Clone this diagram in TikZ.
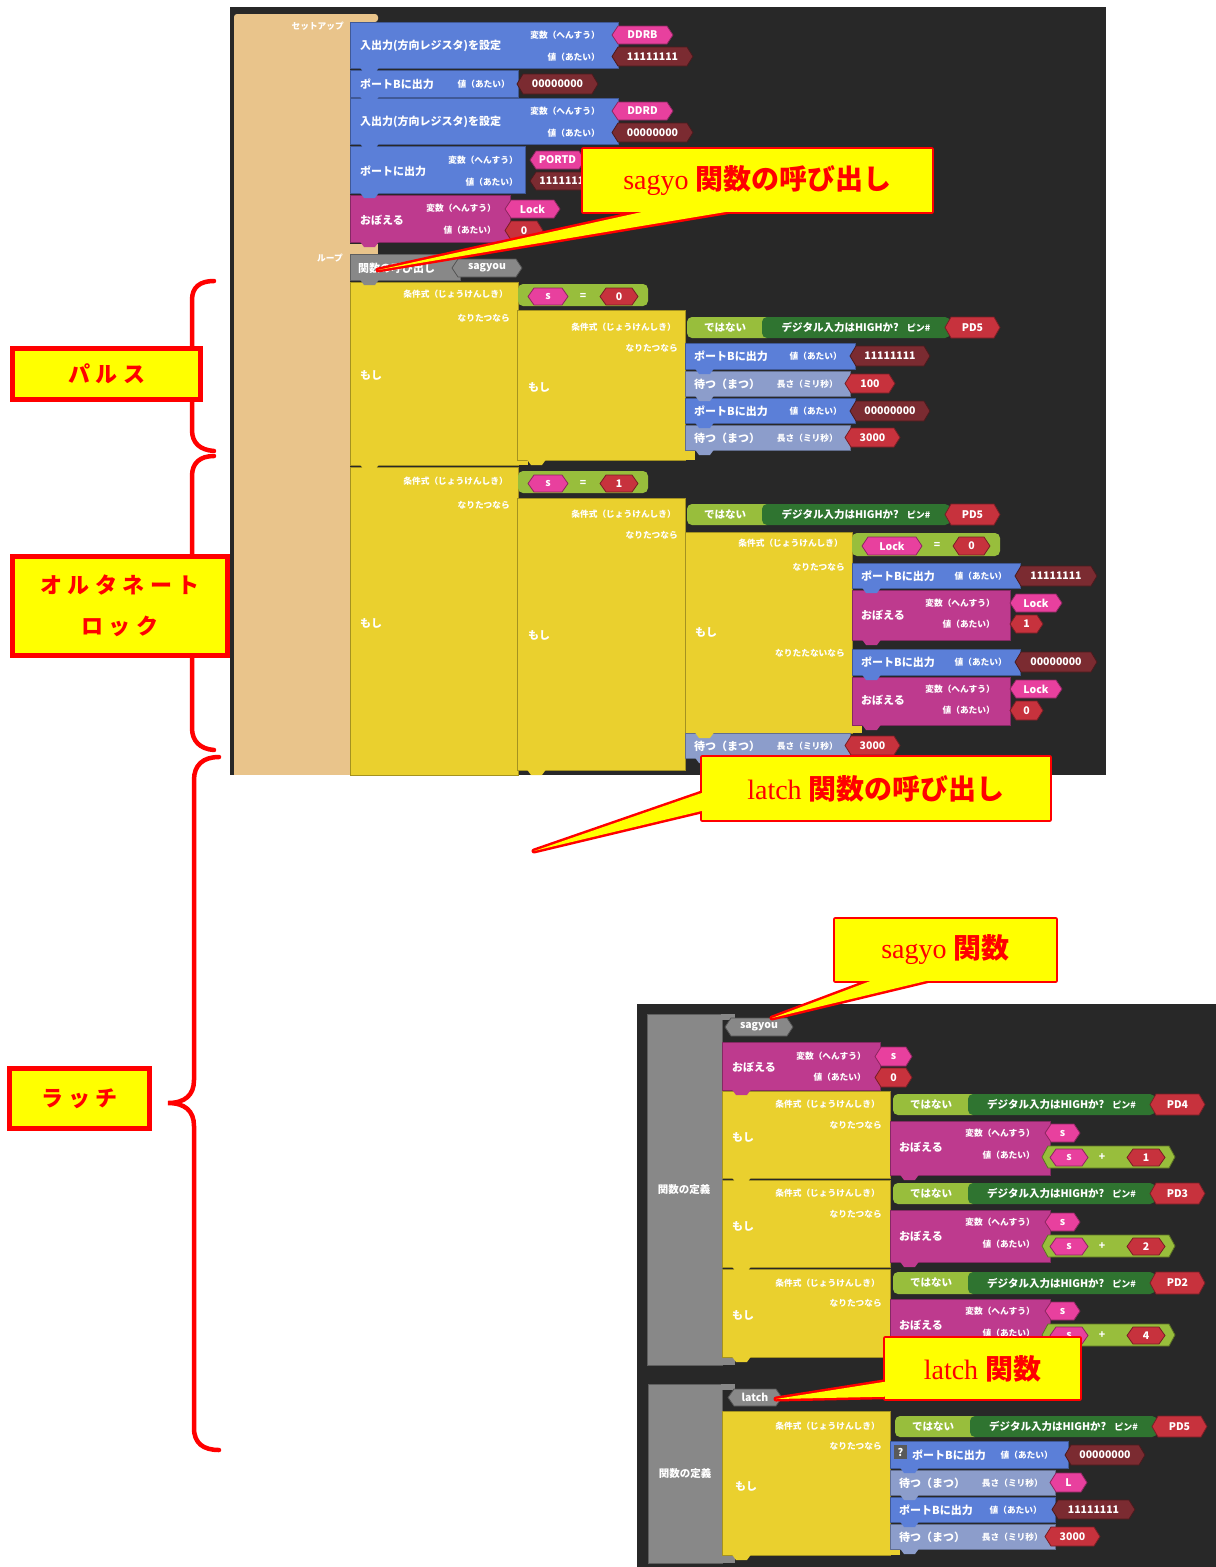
\documentclass[tikz,border=0pt]{standalone}
\usepackage{fontspec}
\setmainfont{Liberation Serif}
\newfontfamily\jp{Noto Sans CJK JP}
\newfontfamily\jpsp{Noto Sans CJK JP}[LetterSpace=25]
\usetikzlibrary{calc}
\definecolor{bg}{HTML}{282828}
\definecolor{ctan}{HTML}{E9C48B}
\definecolor{cblue}{HTML}{5B7FD8}
\definecolor{cwait}{HTML}{8C9DCB}
\definecolor{cmag}{HTML}{BE3A8E}
\definecolor{cyel}{HTML}{EAD02E}
\definecolor{clime}{HTML}{98BE3C}
\definecolor{cgrn}{HTML}{2F7430}
\definecolor{cpink}{HTML}{E8409E}
\definecolor{cred}{HTML}{C7323D}
\definecolor{cmar}{HTML}{7B2B31}
\definecolor{cgray}{HTML}{888888}
\definecolor{callred}{HTML}{FF0000}
\definecolor{cally}{HTML}{FFFF00}
\newcounter{nn}
\newcommand\T[4]{\stepcounter{nn}\node[#1] (n\arabic{nn}) at (#2,#3) {#4};}
\newcommand\B[5]{\filldraw[fill=#5, draw=#5!70!black, line width=0.8] (#1,#2) rectangle (#3,#4);}
\newcommand\tabs{}
\newcommand\tabfill[3]{\pgfmathsetmacro\ta{#1+10}\pgfmathsetmacro\tb{#1+14}\pgfmathsetmacro\tc{#1+25}\pgfmathsetmacro\td{#1+29}\pgfmathsetmacro\te{#2+5}\pgfmathsetmacro\tf{#2-0.5}%
 \fill[#3] (\ta,\tf) -- (\tb,\te) -- (\tc,\te) -- (\td,\tf) -- cycle;}
\newcommand\BS[5]{\B{#1}{#2}{#3}{#4}{#5}\xdef\tabs{\unexpanded\expandafter{\tabs}\noexpand\tabfill{#1}{#4}{#5}}}
\newcommand\V[6]{%
 \pgfmathsetmacro\vym{(#2+#4)/2}\pgfmathsetmacro\vxm{(#1+#3)/2}%
 \pgfmathsetmacro\vxa{#1+6}\pgfmathsetmacro\vxb{#3-6}%
 \filldraw[fill=#5, draw=#5!60!black, line width=0.8] (#1,\vym) -- (\vxa,#2) -- (\vxb,#2) -- (#3,\vym) -- (\vxb,#4) -- (\vxa,#4) -- cycle;
 \T{vtx}{\vxm}{\vym}{#6}}
% not + digital input + pin : x1 y1 y2 xgreenend pin
\newcommand\NP[5]{%
 \pgfmathsetmacro\pxa{#1+75}\pgfmathsetmacro\pxb{#1+85}%
 \pgfmathsetmacro\ppa{#4-5}\pgfmathsetmacro\ppb{#4+50}%
 \pgfmathsetmacro\pym{(#2+#3)/2}\pgfmathsetmacro\pxn{#1+38}\pgfmathsetmacro\pxg{(#1+75+#4)/2}%
 \fill[clime, rounded corners=5] (#1,#2) rectangle (\pxb,#3);
 \fill[cgrn, rounded corners=5] (\pxa,#2) rectangle (#4,#3);
 \V{\ppa}{#2}{\ppb}{#3}{cred}{#5}
 \T{ctr}{\pxn}{\pym}{ではない}
 \T{ctr}{\pxg}{\pym}{デジタル入力はHIGHか?\hspace{8pt}{\fontsize{9}{10}\selectfont ピン\#}}}
\tikzset{
 lab/.style={text=white, font=\jp\bfseries\fontsize{11}{12}\selectfont, inner sep=0, anchor=west},
 sml/.style={text=white, font=\jp\bfseries\fontsize{8.7}{10}\selectfont, inner sep=0, anchor=east},
 vtx/.style={text=white, font=\jp\bfseries\fontsize{10.5}{12}\selectfont, inner sep=0},
 ctr/.style={text=white, font=\jp\bfseries\fontsize{10.5}{12}\selectfont, inner sep=0},
 cline/.style={draw=callred, line width=5, line join=round},
 ctext/.style={text=callred, inner sep=0, font=\fontsize{28}{30}\selectfont},
 lbox/.style={draw=callred, fill=cally, line width=5, inner sep=0, text=callred, align=center, font=\jpsp\bfseries\fontsize{22}{41}\selectfont},
 brace/.style={draw=callred, line width=4.5, line cap=round},
}
\begin{document}
\begin{tikzpicture}[x=1pt,y=-1pt]
\useasboundingbox (0,0) rectangle (1216,1567);
\fill[white] (0,0) rectangle (1216,1567);
% ---------------- panel 1
\fill[bg] (230,7) rectangle (1106,775);
\fill[ctan, rounded corners=3] (234,14) rectangle (378,22);
\fill[ctan] (234,18) rectangle (350,775);
\fill[ctan] (350,244) rectangle (378,254);
\T{sml}{344}{26}{セットアップ}
\T{sml}{343}{258}{ループ}
% setup blocks
\BS{350}{22}{618}{68}{cblue}
\T{lab}{360}{46}{入出力(方向レジスタ)を設定}
\T{sml}{600}{35}{変数（へんすう）}
\T{sml}{600}{57}{値（あたい）}
\V{612}{26}{673}{44}{cpink}{DDRB}
\V{612}{47}{693}{66}{cmar}{11111111}
\BS{350}{70}{518}{97}{cblue}
\T{lab}{360}{84}{ポートBに出力}
\T{sml}{510}{84}{値（あたい）}
\V{517}{74}{598}{94}{cmar}{00000000}
\BS{350}{98}{618}{144}{cblue}
\T{lab}{360}{122}{入出力(方向レジスタ)を設定}
\T{sml}{600}{111}{変数（へんすう）}
\T{sml}{600}{133}{値（あたい）}
\V{612}{102}{673}{120}{cpink}{DDRD}
\V{612}{123}{693}{142}{cmar}{00000000}
\BS{350}{146}{525}{193}{cblue}
\T{lab}{360}{171}{ポートに出力}
\T{sml}{518}{160}{変数（へんすう）}
\T{sml}{518}{182}{値（あたい）}
\V{530}{151}{585}{169}{cpink}{PORTD}
\V{530}{172}{600}{190}{cmar}{11111111}
\BS{350}{195}{510}{242}{cmag}
\T{lab}{360}{220}{おぼえる}
\T{sml}{496}{208}{変数（へんすう）}
\T{sml}{496}{230}{値（あたい）}
\V{505}{200}{560}{218}{cpink}{Lock}
\V{505}{221}{543}{240}{cred}{0}
% loop: function call
\BS{350}{254}{460}{280}{cgray}
\T{lab}{358}{268}{関数の呼び出し}
\V{452}{259}{522}{277}{cgray}{sagyou}
% if 1 (s = 0)
\BS{350}{282}{518}{465}{cyel}
\fill[cyel] (517,458) rectangle (528,465);
\T{sml}{508}{294}{条件式（じょうけんしき）}
\T{sml}{510}{318}{なりたつなら}
\T{lab}{360}{375}{もし}
\fill[clime, rounded corners=5] (518,284) rectangle (648,306);
\V{528}{288}{568}{305}{cpink}{s}
\T{ctr}{583}{296}{=}
\V{600}{288}{638}{305}{cred}{0}
\BS{517}{310}{685}{460}{cyel}
\fill[cyel] (684,450) rectangle (695,460);
\T{sml}{676}{327}{条件式（じょうけんしき）}
\T{sml}{678}{348}{なりたつなら}
\T{lab}{528}{387}{もし}
\NP{687}{317}{338}{950}{PD5}
\BS{685}{343}{855}{369}{cblue}
\T{lab}{694}{356}{ポートBに出力}
\T{sml}{842}{356}{値（あたい）}
\V{850}{346}{930}{366}{cmar}{11111111}
\BS{685}{371}{850}{396}{cwait}
\T{lab}{694}{384}{待つ（まつ）}
\T{sml}{838}{384}{長さ（ミリ秒）}
\V{845}{374}{895}{393}{cred}{100}
\BS{685}{398}{855}{423}{cblue}
\T{lab}{694}{411}{ポートBに出力}
\T{sml}{842}{411}{値（あたい）}
\V{850}{401}{930}{421}{cmar}{00000000}
\BS{685}{425}{850}{450}{cwait}
\T{lab}{694}{438}{待つ（まつ）}
\T{sml}{838}{438}{長さ（ミリ秒）}
\V{845}{428}{900}{447}{cred}{3000}
% if 2 (s = 1)
\B{350}{467}{518}{775}{cyel}
\T{sml}{508}{481}{条件式（じょうけんしき）}
\T{sml}{510}{505}{なりたつなら}
\T{lab}{360}{623}{もし}
\fill[clime, rounded corners=5] (518,471) rectangle (648,493);
\V{528}{475}{568}{492}{cpink}{s}
\T{ctr}{583}{483}{=}
\V{600}{475}{638}{492}{cred}{1}
\BS{517}{498}{685}{770}{cyel}
\T{sml}{676}{514}{条件式（じょうけんしき）}
\T{sml}{678}{535}{なりたつなら}
\T{lab}{528}{635}{もし}
\NP{687}{504}{525}{950}{PD5}
\BS{685}{532}{852}{733}{cyel}
\fill[cyel] (851,725) rectangle (862,733);
\T{sml}{843}{543}{条件式（じょうけんしき）}
\T{sml}{845}{567}{なりたつなら}
\T{lab}{695}{632}{もし}
\T{sml}{845}{653}{なりたたないなら}
\fill[clime, rounded corners=5] (852,533) rectangle (1000,556);
\V{862}{537}{922}{555}{cpink}{Lock}
\T{ctr}{937}{545}{=}
\V{953}{537}{990}{555}{cred}{0}
\BS{852}{563}{1020}{588}{cblue}
\T{lab}{861}{576}{ポートBに出力}
\T{sml}{1007}{576}{値（あたい）}
\V{1015}{566}{1097}{586}{cmar}{11111111}
\BS{852}{590}{1010}{640}{cmag}
\T{lab}{861}{615}{おぼえる}
\T{sml}{995}{603}{変数（へんすう）}
\T{sml}{995}{624}{値（あたい）}
\V{1010}{594}{1062}{612}{cpink}{Lock}
\V{1010}{615}{1043}{633}{cred}{1}
\BS{852}{649}{1020}{675}{cblue}
\T{lab}{861}{662}{ポートBに出力}
\T{sml}{1007}{662}{値（あたい）}
\V{1015}{652}{1097}{672}{cmar}{00000000}
\BS{852}{677}{1010}{725}{cmag}
\T{lab}{861}{700}{おぼえる}
\T{sml}{995}{689}{変数（へんすう）}
\T{sml}{995}{710}{値（あたい）}
\V{1010}{680}{1062}{698}{cpink}{Lock}
\V{1010}{701}{1043}{720}{cred}{0}
\BS{685}{733}{850}{758}{cwait}
\T{lab}{694}{746}{待つ（まつ）}
\T{sml}{838}{746}{長さ（ミリ秒）}
\V{845}{736}{900}{755}{cred}{3000}
% ---------------- panel 2
\fill[bg] (637,1004) rectangle (1216,1567);
% function sagyou
\B{647}{1014}{722}{1365}{cgray}
\fill[cgray] (721,1014) rectangle (735,1020);
\fill[cgray] (721,1357) rectangle (735,1365);
\T{ctr}{684}{1190}{関数の定義}
\V{725}{1018}{793}{1036}{cgray}{sagyou}
\BS{722}{1042}{880}{1090}{cmag}
\T{lab}{732}{1067}{おぼえる}
\T{sml}{866}{1056}{変数（へんすう）}
\T{sml}{866}{1077}{値（あたい）}
\V{875}{1047}{912}{1066}{cpink}{s}
\V{875}{1068}{912}{1087}{cred}{0}
% if PD4
\BS{722}{1091}{890}{1178}{cyel}
\T{sml}{880}{1104}{条件式（じょうけんしき）}
\T{sml}{882}{1125}{なりたつなら}
\T{lab}{732}{1137}{もし}
\NP{893}{1094}{1115}{1155}{PD4}
\BS{890}{1121}{1050}{1175}{cmag}
\T{lab}{899}{1147}{おぼえる}
\T{sml}{1035}{1133}{変数（へんすう）}
\T{sml}{1035}{1155}{値（あたい）}
\V{1045}{1124}{1080}{1142}{cpink}{s}
\V{1042}{1146}{1175}{1168}{clime}{}
\V{1050}{1149}{1088}{1166}{cpink}{s}
\T{ctr}{1102}{1157}{+}
\V{1127}{1149}{1165}{1166}{cred}{1}
% if PD3
\BS{722}{1180}{890}{1267}{cyel}
\T{sml}{880}{1193}{条件式（じょうけんしき）}
\T{sml}{882}{1214}{なりたつなら}
\T{lab}{732}{1226}{もし}
\NP{893}{1183}{1204}{1155}{PD3}
\BS{890}{1210}{1050}{1262}{cmag}
\T{lab}{899}{1236}{おぼえる}
\T{sml}{1035}{1222}{変数（へんすう）}
\T{sml}{1035}{1244}{値（あたい）}
\V{1045}{1213}{1080}{1231}{cpink}{s}
\V{1042}{1235}{1175}{1257}{clime}{}
\V{1050}{1238}{1088}{1255}{cpink}{s}
\T{ctr}{1102}{1246}{+}
\V{1127}{1238}{1165}{1255}{cred}{2}
% if PD2
\BS{722}{1269}{890}{1357}{cyel}
\T{sml}{880}{1283}{条件式（じょうけんしき）}
\T{sml}{882}{1303}{なりたつなら}
\T{lab}{732}{1315}{もし}
\NP{893}{1272}{1294}{1155}{PD2}
\BS{890}{1299}{1050}{1350}{cmag}
\T{lab}{899}{1325}{おぼえる}
\T{sml}{1035}{1311}{変数（へんすう）}
\T{sml}{1035}{1333}{値（あたい）}
\V{1045}{1302}{1080}{1320}{cpink}{s}
\V{1042}{1324}{1175}{1346}{clime}{}
\V{1050}{1327}{1088}{1344}{cpink}{s}
\T{ctr}{1102}{1335}{+}
\V{1127}{1327}{1165}{1344}{cred}{4}
% function latch
\B{648}{1384}{722}{1563}{cgray}
\fill[cgray] (721,1384) rectangle (735,1390);
\fill[cgray] (721,1555) rectangle (735,1563);
\T{ctr}{685}{1474}{関数の定義}
\V{728}{1389}{782}{1406}{cgray}{latch}
\BS{722}{1411}{890}{1555}{cyel}
\fill[cyel] (889,1549) rectangle (900,1555);
\T{sml}{880}{1426}{条件式（じょうけんしき）}
\T{sml}{882}{1446}{なりたつなら}
\T{lab}{735}{1486}{もし}
\NP{895}{1416}{1437}{1157}{PD5}
\BS{890}{1441}{1068}{1468}{cblue}
\fill[black!65] (894,1445) rectangle (907,1459);
\T{ctr}{900.5}{1452}{?}
\T{lab}{912}{1455}{ポートBに出力}
\T{sml}{1053}{1455}{値（あたい）}
\V{1065}{1445}{1145}{1465}{cmar}{00000000}
\BS{890}{1470}{1055}{1495}{cwait}
\T{lab}{899}{1483}{待つ（まつ）}
\T{sml}{1043}{1483}{長さ（ミリ秒）}
\V{1050}{1473}{1087}{1492}{cpink}{L}
\BS{890}{1497}{1055}{1522}{cblue}
\T{lab}{899}{1510}{ポートBに出力}
\T{sml}{1042}{1510}{値（あたい）}
\V{1052}{1500}{1135}{1519}{cmar}{11111111}
\BS{890}{1524}{1055}{1549}{cwait}
\T{lab}{899}{1537}{待つ（まつ）}
\T{sml}{1043}{1537}{長さ（ミリ秒）}
\V{1045}{1527}{1100}{1546}{cred}{3000}
\tabs
% ---------------- braces and labels
\draw[brace] (214,281) .. controls (200,281) and (192,287) .. (192,300) -- (192,430) .. controls (192,443) and (200,450) .. (214,451);
\draw[brace] (214,456) .. controls (200,456) and (192,463) .. (192,476) -- (192,728) .. controls (192,741) and (200,749) .. (214,750);
\draw[brace] (219,757) .. controls (203,757) and (194,765) .. (194,780) -- (194,1080) .. controls (194,1095) and (185,1103) .. (168,1103) .. controls (185,1103) and (194,1111) .. (194,1126) -- (194,1428) .. controls (194,1443) and (203,1450) .. (219,1450);
\node[lbox, minimum width=188, minimum height=51] (pulse) at (106.5,374) {パルス};
\node[lbox, minimum width=215, minimum height=99] (alt) at (120,606) {オルタネート\\ロック};
\node[lbox, minimum width=140, minimum height=60] (latchl) at (79.5,1098.5) {ラッチ};
% ---------------- callouts
\node[minimum width=348, minimum height=62, inner sep=0] (c1) at (757.5,180.5) {};
\coordinate (c1tip) at (378,270);
\coordinate (c1a) at ($(c1.south west)+(60,0)$);
\coordinate (c1b) at ($(c1.south west)+(144,0)$);
\draw[cline] (c1.north west) rectangle (c1.south east);
\draw[cline] (c1a) -- (c1tip) -- (c1b) -- cycle;
\fill[cally] (c1.north west) rectangle (c1.south east);
\fill[cally] (c1a) -- (c1tip) -- (c1b) -- cycle;
\node[ctext] (c1t) at (c1) {sagyo {\jp\bfseries 関数の呼び出し}};
\node[minimum width=347, minimum height=62, inner sep=0] (c2) at (876,788.5) {};
\coordinate (c2tip) at (534,851);
\coordinate (c2a) at ($(c2.north west)+(0,35.5)$);
\coordinate (c2b) at ($(c2.north west)+(0,53.5)$);
\draw[cline] (c2.north west) rectangle (c2.south east);
\draw[cline] (c2a) -- (c2tip) -- (c2b) -- cycle;
\fill[cally] (c2.north west) rectangle (c2.south east);
\fill[cally] (c2a) -- (c2tip) -- (c2b) -- cycle;
\node[ctext] (c2t) at (c2) {latch {\jp\bfseries 関数の呼び出し}};
\node[minimum width=220, minimum height=61, inner sep=0] (c3) at (945.5,950) {};
\coordinate (c3tip) at (772,1018);
\coordinate (c3a) at ($(c3.south west)+(36,0)$);
\coordinate (c3b) at ($(c3.south west)+(92,0)$);
\draw[cline] (c3.north west) rectangle (c3.south east);
\draw[cline] (c3a) -- (c3tip) -- (c3b) -- cycle;
\fill[cally] (c3.north west) rectangle (c3.south east);
\fill[cally] (c3a) -- (c3tip) -- (c3b) -- cycle;
\node[ctext] (c3t) at (c3) {sagyo {\jp\bfseries 関数}};
\node[minimum width=194, minimum height=60, inner sep=0] (c4) at (982.5,1368.5) {};
\coordinate (c4tip) at (776,1399);
\coordinate (c4a) at ($(c4.south west)+(0,-17)$);
\coordinate (c4b) at ($(c4.south west)+(0,-2)$);
\draw[cline] (c4.north west) rectangle (c4.south east);
\draw[cline] (c4a) -- (c4tip) -- (c4b) -- cycle;
\fill[cally] (c4.north west) rectangle (c4.south east);
\fill[cally] (c4a) -- (c4tip) -- (c4b) -- cycle;
\node[ctext] (c4t) at (c4) {latch {\jp\bfseries 関数}};
\end{tikzpicture}
\end{document}
